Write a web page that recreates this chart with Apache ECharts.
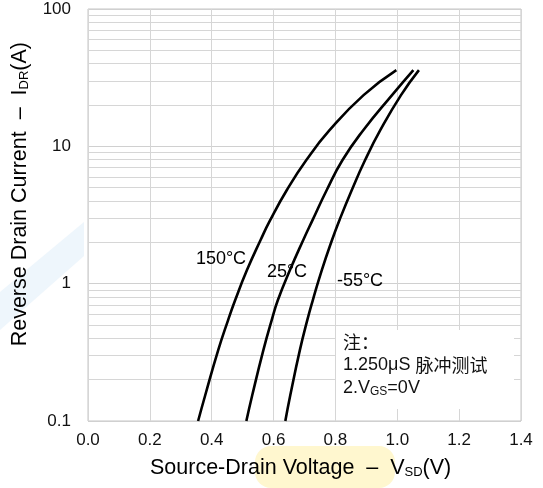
<!DOCTYPE html>
<html>
<head>
<meta charset="UTF-8">
<title>Reverse Drain Current</title>
<script src="https://cdn.jsdelivr.net/npm/echarts@6/dist/echarts.min.js"></script>
<style>
  html, body { margin: 0; padding: 0; background: #fff; }
  #chart { width: 543px; height: 488px; }
</style>
</head>
<body>
<div id="chart"></div>
<script>
// current levels (A) where the three curves were read
var current = [0.1, 0.154, 0.328, 0.543, 0.76, 1.256, 2.08, 2.9, 4.81, 7.95, 13.1, 23.6, 35.9];
// source-drain voltage (V) of each curve at those levels
var volt150 = [0.356, 0.379, 0.421, 0.453, 0.476, 0.514, 0.558, 0.589, 0.643, 0.706, 0.781, 0.891, 0.997];
var volt25 = [0.512, 0.531, 0.567, 0.594, 0.614, 0.653, 0.696, 0.726, 0.772, 0.823, 0.890, 0.983, 1.052];
var voltM55 = [0.638, 0.654, 0.685, 0.709, 0.727, 0.756, 0.789, 0.813, 0.853, 0.896, 0.945, 1.012, 1.070];
// minor log grid lines
var minorLines = [0.2, 0.3, 0.4, 0.5, 0.6, 0.7, 0.8, 0.9, 2, 3, 4, 5, 6, 7, 8, 9, 20, 30, 40, 50, 60, 70, 80, 90];

function pairs(xs) {
    return xs.map(function (x, i) { return [x, current[i]]; });
}

var font = 'Liberation Sans, Arial, sans-serif';
var chart = echarts.init(document.getElementById('chart'));

var curveStyle = { color: '#000', width: 2.6 };

chart.setOption({
    animation: false,
    backgroundColor: '#fff',
    grid: { left: 88, right: 22, top: 9, bottom: 67, show: true, borderColor: '#c4c4c4', borderWidth: 1 },
    xAxis: {
        type: 'value', min: 0, max: 1.4, interval: 0.2,
        axisLine: { show: false }, axisTick: { show: false },
        splitLine: { show: true, lineStyle: { color: '#d6d6d6', width: 1 } },
        axisLabel: {
            margin: 11, color: '#111', fontSize: 17, fontFamily: font,
            formatter: function (v) { return v.toFixed(1); }
        }
    },
    yAxis: {
        type: 'log', logBase: 10, min: 0.1, max: 100,
        axisLine: { show: false }, axisTick: { show: false },
        splitLine: { show: true, lineStyle: { color: '#d0d0d0', width: 1 } },
        axisLabel: {
            margin: 17, color: '#111', fontSize: 17, fontFamily: font,
            formatter: function (v) { return String(v); }
        }
    },
    graphic: [
        // faint watermark behind the chart
        { type: 'polygon', z: -10, shape: { points: [[0, 330], [0, 292], [84, 222], [84, 256]] }, style: { fill: '#eef6fc' } },
        { type: 'rect', z: -10, shape: { x: 255, y: 446, width: 140, height: 42, r: 16 }, style: { fill: '#fff7cf' } },
        // axis titles
        {
            type: 'text', left: 9, top: 42, z: 50,
            rotation: Math.PI / 2,
            style: {
                text: '{a|Reverse Drain Current  –  I}{s|DR}{a|(A)}',
                rich: {
                    a: { fontSize: 21.5, fontFamily: font, fill: '#000' },
                    s: { fontSize: 13, fontFamily: font, fill: '#000', padding: [8, 0, 0, 0] }
                }
            }
        },
        {
            type: 'text', left: 150, top: 457, z: 50,
            style: {
                text: '{a|Source-Drain Voltage  –  V}{s|SD}{a|(V)}',
                rich: {
                    a: { fontSize: 21.5, fontFamily: font, fill: '#000' },
                    s: { fontSize: 13, fontFamily: font, fill: '#000', padding: [8, 0, 0, 0] }
                }
            }
        },
        // temperature labels
        { type: 'text', x: 221, y: 259, z: 50, style: { text: '150°C', fontSize: 18, fontFamily: font, fill: '#000', align: 'center', verticalAlign: 'middle' } },
        { type: 'text', x: 287, y: 272, z: 50, style: { text: '25°C', fontSize: 18, fontFamily: font, fill: '#000', align: 'center', verticalAlign: 'middle' } },
        { type: 'text', x: 360, y: 281, z: 50, style: { text: '-55°C', fontSize: 18, fontFamily: font, fill: '#000', align: 'center', verticalAlign: 'middle' } },
        // note box
        { type: 'rect', z: 40, shape: { x: 336, y: 330, width: 178, height: 79 }, style: { fill: '#fff' } },
        {
            type: 'text', left: 343, top: 333, z: 50,
            style: {
                text: '{c|注：}\n{a|1.250μS }{c|脉冲测试}\n{a|2.V}{s|GS}{a|=0V}',
                rich: {
                    a: { fontSize: 18, fontFamily: font, fill: '#111', lineHeight: 23 },
                    c: { fontSize: 18, fontFamily: 'Noto Sans CJK SC', fill: '#111', lineHeight: 23 },
                    s: { fontSize: 12, fontFamily: font, fill: '#111', lineHeight: 23, padding: [7, 0, 0, 0] }
                }
            }
        }
    ],
    series: [
        {
            type: 'line', data: [], z: 1, silent: true,
            markLine: {
                silent: true, symbol: 'none', label: { show: false },
                lineStyle: { color: '#d6d6d6', width: 1, type: 'solid' },
                data: minorLines.map(function (v) { return { yAxis: v }; })
            }
        },
        { name: '150°C', type: 'line', z: 5, smooth: 0.5, showSymbol: false, lineStyle: curveStyle, data: pairs(volt150) },
        { name: '25°C', type: 'line', z: 5, smooth: 0.5, showSymbol: false, lineStyle: curveStyle, data: pairs(volt25) },
        { name: '-55°C', type: 'line', z: 5, smooth: 0.5, showSymbol: false, lineStyle: curveStyle, data: pairs(voltM55) }
    ]
});
</script>
</body>
</html>
